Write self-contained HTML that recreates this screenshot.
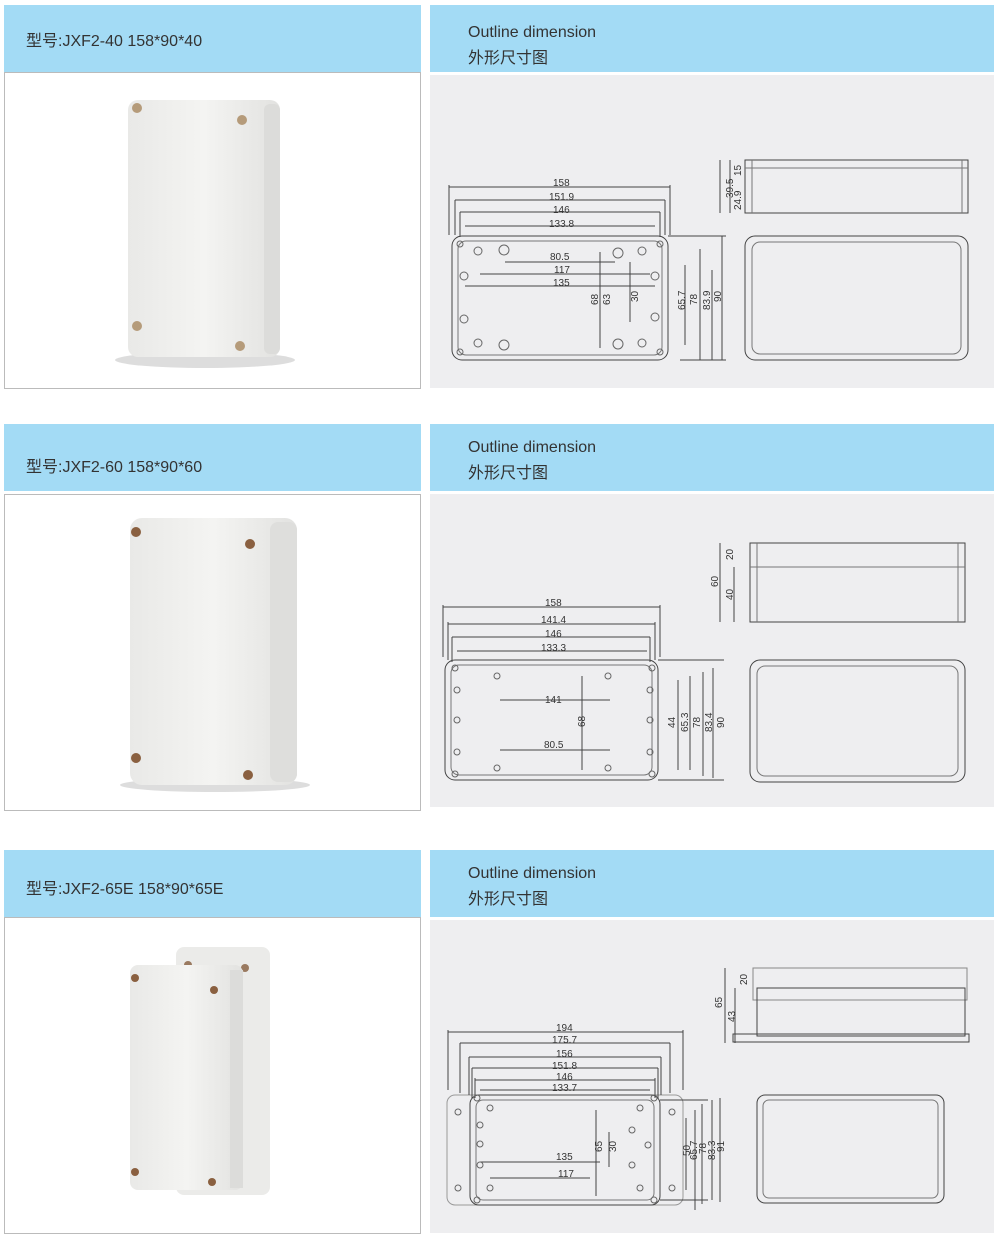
<!DOCTYPE html>
<html><head><meta charset="utf-8"><style>
html,body{margin:0;padding:0;background:#fff;width:1000px;height:1246px;overflow:hidden;position:relative;font-family:"Liberation Sans","Noto Sans CJK SC",sans-serif}
.h{position:absolute;background:#a3dbf5;color:#333}
.lp{position:absolute;background:#fff;border:1px solid #bbb;box-sizing:border-box}
.rp{position:absolute;background:#eeeef0}
.t1{position:absolute;left:22px;font-size:16px}
.t2{position:absolute;left:38px;font-size:16px;line-height:26px}
svg{position:absolute;left:0;top:0}
</style></head><body>
<div class="h" style="left:4px;top:5px;width:417px;height:67px"><div class="t1" style="top:22px">型号:JXF2-40 158*90*40</div></div>
<div class="lp" style="left:4px;top:72px;width:417px;height:317px"></div>
<div class="h" style="left:430px;top:5px;width:564px;height:67px"><div class="t2" style="top:15px">Outline dimension<br>外形尺寸图</div></div>
<div class="rp" style="left:430px;top:75px;width:564px;height:313px"></div>

<div class="h" style="left:4px;top:424px;width:417px;height:67px"><div class="t1" style="top:29px">型号:JXF2-60 158*90*60</div></div>
<div class="lp" style="left:4px;top:494px;width:417px;height:317px"></div>
<div class="h" style="left:430px;top:424px;width:564px;height:67px"><div class="t2" style="top:11px">Outline dimension<br>外形尺寸图</div></div>
<div class="rp" style="left:430px;top:494px;width:564px;height:313px"></div>

<div class="h" style="left:4px;top:850px;width:417px;height:67px"><div class="t1" style="top:25px">型号:JXF2-65E 158*90*65E</div></div>
<div class="lp" style="left:4px;top:917px;width:417px;height:317px"></div>
<div class="h" style="left:430px;top:850px;width:564px;height:67px"><div class="t2" style="top:11px">Outline dimension<br>外形尺寸图</div></div>
<div class="rp" style="left:430px;top:920px;width:564px;height:313px"></div>

<svg width="1000" height="1246" font-family="Liberation Sans Narrow, Liberation Sans, sans-serif" font-size="10" fill="none" stroke="#444" stroke-width="1">
<defs>
<linearGradient id="g" x1="0" x2="1"><stop offset="0" stop-color="#e9e9e7"/><stop offset="0.5" stop-color="#f4f4f2"/><stop offset="1" stop-color="#e2e2e0"/></linearGradient>
</defs>
<!-- product 1 -->
<g stroke="none">
<ellipse cx="205" cy="360" rx="90" ry="8" fill="#ddd"/>
<rect x="128" y="100" width="152" height="257" rx="10" fill="url(#g)"/>
<rect x="264" y="104" width="16" height="250" rx="6" fill="#dcdcda"/>
<circle cx="137" cy="108" r="5" fill="#b59b7a"/><circle cx="242" cy="120" r="5" fill="#b59b7a"/>
<circle cx="137" cy="326" r="5" fill="#b59b7a"/><circle cx="240" cy="346" r="5" fill="#b59b7a"/>
</g>
<!-- product 2 -->
<g stroke="none">
<ellipse cx="215" cy="785" rx="95" ry="7" fill="#ddd"/>
<rect x="130" y="518" width="167" height="267" rx="12" fill="url(#g)"/>
<rect x="270" y="522" width="27" height="260" rx="8" fill="#dededc"/>
<circle cx="136" cy="532" r="5" fill="#8a6040"/><circle cx="250" cy="544" r="5" fill="#8a6040"/>
<circle cx="136" cy="758" r="5" fill="#8a6040"/><circle cx="248" cy="775" r="5" fill="#8a6040"/>
</g>
<!-- product 3 -->
<g stroke="none">
<rect x="176" y="947" width="94" height="248" rx="8" fill="#ebebe9"/>
<circle cx="188" cy="965" r="4" fill="#9a7a60"/><circle cx="245" cy="968" r="4" fill="#9a7a60"/>
<rect x="130" y="965" width="113" height="225" rx="8" fill="url(#g)"/>
<rect x="230" y="970" width="13" height="218" fill="#dcdcda"/>
<circle cx="135" cy="978" r="4" fill="#8a6040"/><circle cx="214" cy="990" r="4" fill="#8a6040"/>
<circle cx="135" cy="1172" r="4" fill="#8a6040"/><circle cx="212" cy="1182" r="4" fill="#8a6040"/>
</g>

<!-- drawing 1 -->
<g>
<rect x="452" y="236" width="216" height="124" rx="10"/>
<rect x="458" y="241" width="204" height="114" rx="8" stroke="#777"/>
<path d="M449 185v50M670 185v50M455 200v35M665 200v35M460 212v25M660 212v25"/>
<path d="M449 187h221M455 200h210M460 212h200M465 226h190"/>
<path d="M668 236h58M680 360h46M700 249v111M712 270v90M722 236v124M685 265v80"/>
<path d="M505 262h110M480 274h170M465 286h190M600 252v96M630 262v60"/>
<g fill="none" stroke="#666"><circle cx="478" cy="251" r="4"/><circle cx="504" cy="250" r="5"/><circle cx="464" cy="276" r="4"/><circle cx="464" cy="319" r="4"/><circle cx="478" cy="343" r="4"/><circle cx="504" cy="345" r="5"/><circle cx="642" cy="251" r="4"/><circle cx="655" cy="276" r="4"/><circle cx="655" cy="317" r="4"/><circle cx="642" cy="343" r="4"/><circle cx="618" cy="253" r="5"/><circle cx="618" cy="344" r="5"/><circle cx="460" cy="244" r="3"/><circle cx="660" cy="244" r="3"/><circle cx="460" cy="352" r="3"/><circle cx="660" cy="352" r="3"/></g>
<rect x="745" y="160" width="223" height="53"/><path d="M745 168h223M752 160v53M962 160v53" stroke="#777"/>
<path d="M730 160v53M720 160v53"/>
<rect x="745" y="236" width="223" height="124" rx="10"/><rect x="752" y="242" width="209" height="112" rx="8" stroke="#777"/>
<g fill="#333" stroke="none" font-size="10">
<text x="553" y="186">158</text><text x="549" y="200">151.9</text><text x="553" y="213">146</text><text x="549" y="227">133.8</text>
<text x="550" y="260">80.5</text><text x="554" y="273">117</text><text x="553" y="286">135</text>
<text transform="translate(598,305) rotate(-90)">68</text><text transform="translate(610,305) rotate(-90)">63</text><text transform="translate(638,302) rotate(-90)">30</text>
<text transform="translate(685,310) rotate(-90)">65.7</text><text transform="translate(697,305) rotate(-90)">78</text><text transform="translate(710,310) rotate(-90)">83.9</text><text transform="translate(721,302) rotate(-90)">90</text>
<text transform="translate(733,198) rotate(-90)">39.5</text><text transform="translate(741,176) rotate(-90)">15</text><text transform="translate(741,210) rotate(-90)">24.9</text>
</g>
</g>

<!-- drawing 2 -->
<g>
<rect x="445" y="660" width="213" height="120" rx="10"/><rect x="451" y="665" width="201" height="110" rx="8" stroke="#777"/>
<path d="M443 605v52M660 605v52M448 622v38M655 622v38M452 637v25M650 637v25"/>
<path d="M443 607h217M448 624h207M452 637h198M457 651h190"/>
<path d="M658 660h66M658 780h66M713 668v110M703 672v104M690 676v94M678 680v90M500 700h110M500 750h110M582 676v94"/>
<g stroke="#666"><circle cx="457" cy="690" r="3"/><circle cx="457" cy="720" r="3"/><circle cx="457" cy="752" r="3"/><circle cx="497" cy="676" r="3"/><circle cx="497" cy="768" r="3"/><circle cx="608" cy="676" r="3"/><circle cx="608" cy="768" r="3"/><circle cx="650" cy="690" r="3"/><circle cx="650" cy="720" r="3"/><circle cx="650" cy="752" r="3"/><circle cx="455" cy="668" r="3"/><circle cx="652" cy="668" r="3"/><circle cx="455" cy="774" r="3"/><circle cx="652" cy="774" r="3"/></g>
<rect x="750" y="543" width="215" height="79"/><path d="M750 567h215M757 543v79M958 543v79" stroke="#777"/>
<path d="M720 543v79M734 567v55"/>
<rect x="750" y="660" width="215" height="122" rx="10"/><rect x="757" y="666" width="201" height="110" rx="8" stroke="#777"/>
<g fill="#333" stroke="none">
<text x="545" y="606">158</text><text x="541" y="623">141.4</text><text x="545" y="637">146</text><text x="541" y="651">133.3</text>
<text x="545" y="703">141</text><text x="544" y="748">80.5</text><text transform="translate(585,727) rotate(-90)">68</text>
<text transform="translate(675,728) rotate(-90)">44</text><text transform="translate(688,732) rotate(-90)">65.3</text><text transform="translate(700,728) rotate(-90)">78</text><text transform="translate(712,732) rotate(-90)">83.4</text><text transform="translate(724,728) rotate(-90)">90</text>
<text transform="translate(718,587) rotate(-90)">60</text><text transform="translate(733,600) rotate(-90)">40</text><text transform="translate(733,560) rotate(-90)">20</text>
</g>
</g>

<!-- drawing 3 -->
<g>
<rect x="447" y="1095" width="236" height="110" rx="8" stroke="#999"/>
<rect x="470" y="1095" width="190" height="110" rx="9"/><rect x="476" y="1100" width="178" height="100" rx="7" stroke="#777"/>
<path d="M448 1030v60M683 1030v60M460 1043v50M670 1043v50M469 1057v38M661 1057v38M472 1068v30M658 1068v30M475 1078v20M655 1078v20"/>
<path d="M448 1032h235M460 1043h210M469 1057h192M472 1068h186M475 1080h180M480 1090h170"/>
<path d="M660 1100h48M660 1200h48M686 1118v72M695 1110v100M702 1104v100M712 1100v100M720 1098v104M596 1110v86M609 1132v35M480 1162h120M490 1178h100"/>
<g stroke="#666"><circle cx="458" cy="1112" r="3"/><circle cx="458" cy="1188" r="3"/><circle cx="672" cy="1112" r="3"/><circle cx="672" cy="1188" r="3"/><circle cx="490" cy="1108" r="3"/><circle cx="640" cy="1108" r="3"/><circle cx="480" cy="1125" r="3"/><circle cx="480" cy="1144" r="3"/><circle cx="480" cy="1165" r="3"/><circle cx="490" cy="1188" r="3"/><circle cx="640" cy="1188" r="3"/><circle cx="632" cy="1130" r="3"/><circle cx="632" cy="1165" r="3"/><circle cx="648" cy="1145" r="3"/><circle cx="477" cy="1098" r="3"/><circle cx="654" cy="1098" r="3"/><circle cx="477" cy="1200" r="3"/><circle cx="654" cy="1200" r="3"/></g>
<rect x="753" y="968" width="214" height="32" stroke="#888"/><rect x="757" y="988" width="208" height="48"/>
<path d="M733 1034h236v8H733z"/><path d="M725 968v75M735 988v55"/>
<rect x="757" y="1095" width="187" height="108" rx="8"/><rect x="763" y="1100" width="175" height="98" rx="6" stroke="#777"/>
<g fill="#333" stroke="none">
<text x="556" y="1031">194</text><text x="552" y="1043">175.7</text><text x="556" y="1057">156</text><text x="552" y="1069">151.8</text><text x="556" y="1080">146</text><text x="552" y="1091">133.7</text>
<text x="556" y="1160">135</text><text x="558" y="1177">117</text><text transform="translate(602,1152) rotate(-90)">65</text><text transform="translate(616,1152) rotate(-90)">30</text>
<text transform="translate(690,1156) rotate(-90)">50</text><text transform="translate(697,1160) rotate(-90)">65.7</text><text transform="translate(706,1154) rotate(-90)">78</text><text transform="translate(715,1160) rotate(-90)">83.3</text><text transform="translate(724,1152) rotate(-90)">91</text>
<text transform="translate(722,1008) rotate(-90)">65</text><text transform="translate(735,1022) rotate(-90)">43</text><text transform="translate(747,985) rotate(-90)">20</text>
</g>
</g>
</svg>
</body></html>
